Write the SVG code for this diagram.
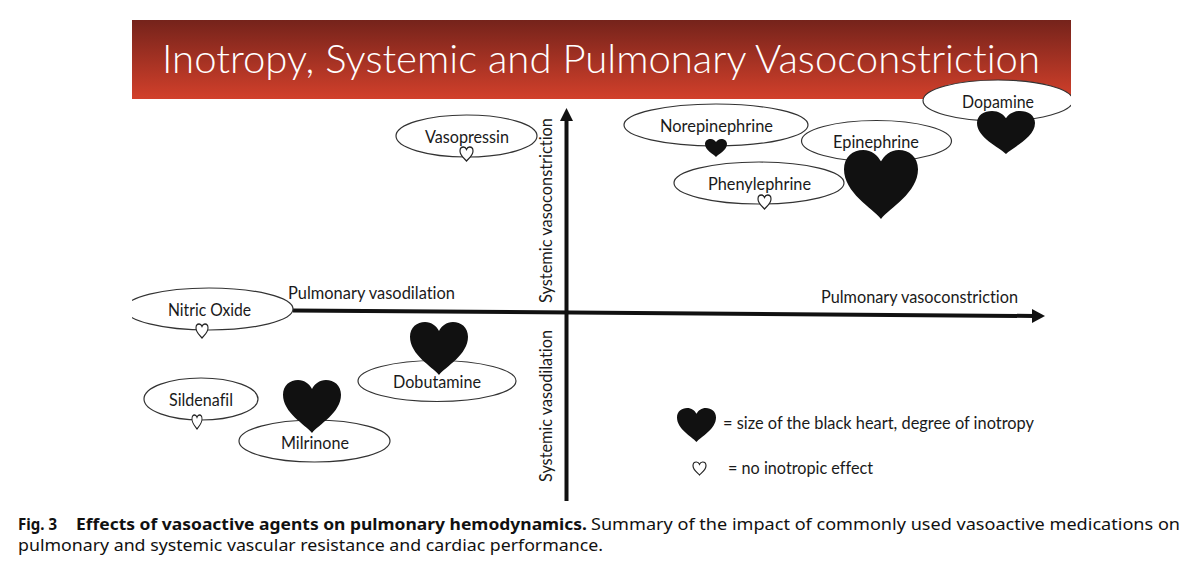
<svg xmlns="http://www.w3.org/2000/svg" width="1200" height="572" viewBox="0 0 1200 572">
<style>
text{font-family:"Lato","Open Sans","Liberation Sans",sans-serif;fill:#1a1a1a;font-size:16.5px;font-variant-ligatures:none}
.el{fill:#fff;stroke:#333;stroke-width:1.2}
.fh{fill:#111}
.oh{fill:#fff;stroke:#222;stroke-width:9}
.ax{fill:none;stroke:#111;stroke-width:4}
.head{fill:#111}
.cap{font-family:"Noto Sans","Open Sans",sans-serif;font-size:16px;fill:#111}
.b{font-weight:700}
</style>
<defs>
<linearGradient id="g" x1="0" y1="0" x2="0" y2="1"><stop offset="0" stop-color="#75231b"/><stop offset="1" stop-color="#d2402b"/></linearGradient>
<path id="h" d="M50 100C38 84 0 62 0 28C0 10 12 0 26 0C37 0 46 8 50 17C54 8 63 0 74 0C88 0 100 10 100 28C100 62 62 84 50 100Z"/>
<clipPath id="cr"><rect x="900" y="60" width="171" height="90"/></clipPath>
<clipPath id="cl"><rect x="132" y="280" width="200" height="60"/></clipPath>
</defs>
<g id="banner">
<rect x="132" y="20" width="939" height="79" fill="url(#g)"/>
<text x="162" y="73" textLength="878" lengthAdjust="spacingAndGlyphs" style="font-size:39px;font-weight:300;fill:#fff">Inotropy, Systemic and Pulmonary Vasoconstriction</text>
</g>
<g id="connectors">
<path class="ax" d="M293 310.5L1034 316"/>
<path class="head" d="M1032 309L1045 316L1032 323Z"/>
<path class="ax" d="M566.5 501V118"/>
<path class="head" d="M560 121L566.5 108L573 121Z"/>
</g>
<g id="axis-labels">
<text x="288" y="298.5" textLength="167" lengthAdjust="spacingAndGlyphs">Pulmonary vasodilation</text>
<text x="821" y="302.5" textLength="197" lengthAdjust="spacingAndGlyphs">Pulmonary vasoconstriction</text>
<text transform="translate(552 303) rotate(-90)" textLength="185" lengthAdjust="spacingAndGlyphs">Systemic vasoconstriction</text>
<text transform="translate(552 482) rotate(-90)" textLength="152" lengthAdjust="spacingAndGlyphs">Systemic vasodilation</text>
</g>
<g id="vasopressin">
<ellipse class="el" cx="466.5" cy="136" rx="70.5" ry="21"/>
<text x="425" y="142.5" textLength="84" lengthAdjust="spacingAndGlyphs">Vasopressin</text>
<use href="#h" class="oh" transform="translate(460 147) scale(.13 .14)"/>
</g>
<g id="norepinephrine">
<ellipse class="el" cx="716" cy="125" rx="92" ry="21"/>
<text x="660" y="131.5" textLength="113" lengthAdjust="spacingAndGlyphs">Norepinephrine</text>
<use href="#h" class="fh" transform="translate(705 139) scale(.22 .18)"/>
</g>
<g id="phenylephrine">
<ellipse class="el" cx="759" cy="183" rx="85" ry="21"/>
<text x="708" y="189.5" textLength="103" lengthAdjust="spacingAndGlyphs">Phenylephrine</text>
<use href="#h" class="oh" transform="translate(758 195) scale(.13 .14)"/>
</g>
<g id="epinephrine">
<ellipse class="el" cx="876.5" cy="141" rx="75" ry="20.5"/>
<text x="833" y="147.5" textLength="86" lengthAdjust="spacingAndGlyphs">Epinephrine</text>
<use href="#h" class="fh" transform="translate(844 150) scale(.74 .69)"/>
</g>
<g id="dopamine">
<ellipse class="el" cx="998" cy="100.5" rx="75" ry="20.5" clip-path="url(#cr)"/>
<text x="962" y="107.5" textLength="72" lengthAdjust="spacingAndGlyphs">Dopamine</text>
<use href="#h" class="fh" transform="translate(977 111) scale(.58 .43)"/>
</g>
<g id="nitric-oxide">
<ellipse class="el" cx="209" cy="309" rx="84" ry="21" clip-path="url(#cl)"/>
<text x="168" y="315.5" textLength="83" lengthAdjust="spacingAndGlyphs">Nitric Oxide</text>
<use href="#h" class="oh" transform="translate(196 324) scale(.12 .14)"/>
</g>
<g id="sildenafil">
<ellipse class="el" cx="201" cy="399" rx="57" ry="21"/>
<text x="169" y="405.5" textLength="64" lengthAdjust="spacingAndGlyphs">Sildenafil</text>
<use href="#h" class="oh" transform="translate(192 415) scale(.1 .14)"/>
</g>
<g id="dobutamine">
<ellipse class="el" cx="437" cy="381" rx="79" ry="20.5"/>
<use href="#h" class="fh" transform="translate(410 322) scale(.58 .53)"/>
<text x="393" y="387.5" textLength="88" lengthAdjust="spacingAndGlyphs">Dobutamine</text>
</g>
<g id="milrinone">
<ellipse class="el" cx="314.5" cy="441" rx="75.5" ry="21"/>
<use href="#h" class="fh" transform="translate(283 380) scale(.58 .53)"/>
<text x="281" y="448.5" textLength="68" lengthAdjust="spacingAndGlyphs">Milrinone</text>
</g>
<g id="legend">
<use href="#h" class="fh" transform="translate(677 408) scale(.39 .34)"/>
<text x="723" y="428.5" textLength="311" lengthAdjust="spacingAndGlyphs">= size of the black heart, degree of inotropy</text>
<use href="#h" class="oh" transform="translate(693 462) scale(.13 .13)"/>
<text x="728" y="473.5" textLength="145" lengthAdjust="spacingAndGlyphs">= no inotropic effect</text>
</g>
<g id="caption">
<text class="cap b" x="18" y="530" textLength="39" lengthAdjust="spacingAndGlyphs">Fig. 3</text>
<text class="cap b" x="76" y="530" textLength="511" lengthAdjust="spacingAndGlyphs">Effects of vasoactive agents on pulmonary hemodynamics.</text>
<text class="cap" x="591" y="530" textLength="589" lengthAdjust="spacingAndGlyphs">Summary of the impact of commonly used vasoactive medications on</text>
<text class="cap" x="18" y="551" textLength="585" lengthAdjust="spacingAndGlyphs">pulmonary and systemic vascular resistance and cardiac performance.</text>
</g>
</svg>
